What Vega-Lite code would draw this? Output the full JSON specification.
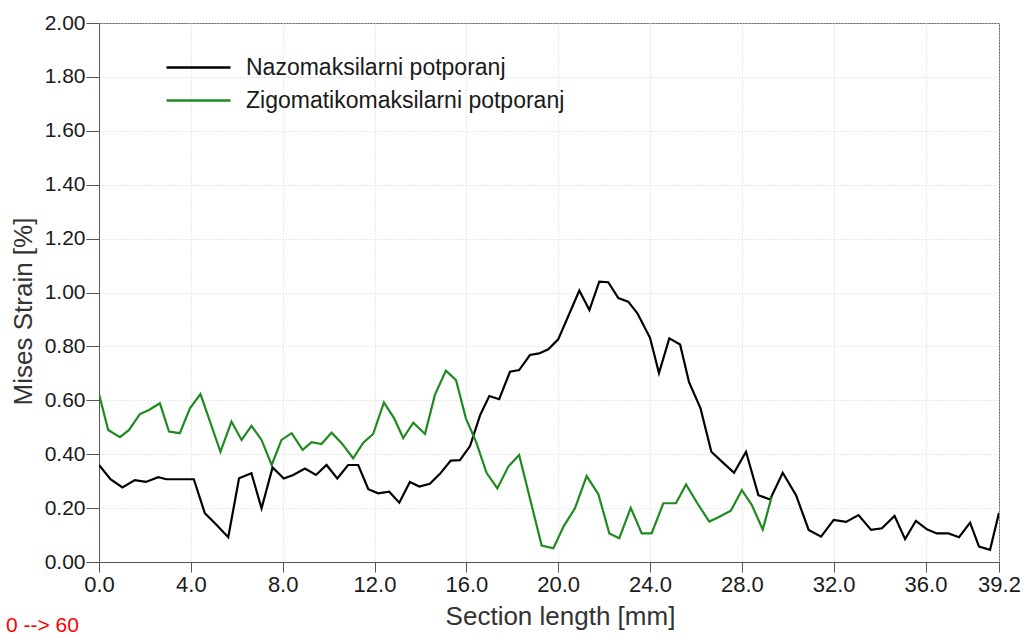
{
  "$schema": "https://vega.github.io/schema/vega-lite/v6.json",
  "width": 900,
  "height": 539,
  "autosize": {"type": "none"},
  "padding": {"left": 99, "top": 23, "right": 27, "bottom": 75},
  "background": "white",
  "config": {
    "font": "Liberation Sans",
    "view": {"stroke": "#666666", "strokeWidth": 1},
    "axis": {
      "domainColor": "#555555",
      "tickColor": "#555555",
      "gridColor": "#d4d4d4",
      "gridDash": [1, 2],
      "gridWidth": 1,
      "labelColor": "#1a1a1a",
      "titleColor": "#333333",
      "labelFont": "Liberation Sans",
      "titleFont": "Liberation Sans",
      "titleFontWeight": "normal"
    }
  },
  "title": {
    "text": "0 --> 60",
    "orient": "bottom",
    "anchor": "start",
    "frame": "group",
    "color": "#ff0000",
    "font": "Liberation Sans",
    "fontSize": 21,
    "fontWeight": "normal",
    "offset": 0,
    "dx": -93,
    "dy": -14
  },
  "data": {
    "values": [
      {"series": "Nazomaksilarni potporanj", "x": 0.0, "y": 0.36},
      {"series": "Nazomaksilarni potporanj", "x": 0.50, "y": 0.307},
      {"series": "Nazomaksilarni potporanj", "x": 1.02, "y": 0.277},
      {"series": "Nazomaksilarni potporanj", "x": 1.56, "y": 0.304},
      {"series": "Nazomaksilarni potporanj", "x": 2.04, "y": 0.297},
      {"series": "Nazomaksilarni potporanj", "x": 2.58, "y": 0.315},
      {"series": "Nazomaksilarni potporanj", "x": 2.94, "y": 0.307},
      {"series": "Nazomaksilarni potporanj", "x": 3.5, "y": 0.307},
      {"series": "Nazomaksilarni potporanj", "x": 4.13, "y": 0.307},
      {"series": "Nazomaksilarni potporanj", "x": 4.61, "y": 0.181},
      {"series": "Nazomaksilarni potporanj", "x": 5.05, "y": 0.144},
      {"series": "Nazomaksilarni potporanj", "x": 5.63, "y": 0.092},
      {"series": "Nazomaksilarni potporanj", "x": 6.10, "y": 0.311},
      {"series": "Nazomaksilarni potporanj", "x": 6.64, "y": 0.329},
      {"series": "Nazomaksilarni potporanj", "x": 7.08, "y": 0.199},
      {"series": "Nazomaksilarni potporanj", "x": 7.56, "y": 0.351},
      {"series": "Nazomaksilarni potporanj", "x": 8.05, "y": 0.310},
      {"series": "Nazomaksilarni potporanj", "x": 8.46, "y": 0.323},
      {"series": "Nazomaksilarni potporanj", "x": 8.97, "y": 0.347},
      {"series": "Nazomaksilarni potporanj", "x": 9.45, "y": 0.323},
      {"series": "Nazomaksilarni potporanj", "x": 9.91, "y": 0.360},
      {"series": "Nazomaksilarni potporanj", "x": 10.38, "y": 0.310},
      {"series": "Nazomaksilarni potporanj", "x": 10.85, "y": 0.360},
      {"series": "Nazomaksilarni potporanj", "x": 11.29, "y": 0.360},
      {"series": "Nazomaksilarni potporanj", "x": 11.73, "y": 0.270},
      {"series": "Nazomaksilarni potporanj", "x": 12.16, "y": 0.255},
      {"series": "Nazomaksilarni potporanj", "x": 12.64, "y": 0.261},
      {"series": "Nazomaksilarni potporanj", "x": 13.08, "y": 0.220},
      {"series": "Nazomaksilarni potporanj", "x": 13.54, "y": 0.297},
      {"series": "Nazomaksilarni potporanj", "x": 13.95, "y": 0.280},
      {"series": "Nazomaksilarni potporanj", "x": 14.41, "y": 0.290},
      {"series": "Nazomaksilarni potporanj", "x": 14.85, "y": 0.327},
      {"series": "Nazomaksilarni potporanj", "x": 15.32, "y": 0.376},
      {"series": "Nazomaksilarni potporanj", "x": 15.72, "y": 0.378},
      {"series": "Nazomaksilarni potporanj", "x": 16.16, "y": 0.430},
      {"series": "Nazomaksilarni potporanj", "x": 16.60, "y": 0.545},
      {"series": "Nazomaksilarni potporanj", "x": 17.00, "y": 0.616},
      {"series": "Nazomaksilarni potporanj", "x": 17.43, "y": 0.604},
      {"series": "Nazomaksilarni potporanj", "x": 17.90, "y": 0.706},
      {"series": "Nazomaksilarni potporanj", "x": 18.30, "y": 0.712},
      {"series": "Nazomaksilarni potporanj", "x": 18.77, "y": 0.768},
      {"series": "Nazomaksilarni potporanj", "x": 19.17, "y": 0.774},
      {"series": "Nazomaksilarni potporanj", "x": 19.57, "y": 0.789},
      {"series": "Nazomaksilarni potporanj", "x": 20.00, "y": 0.826},
      {"series": "Nazomaksilarni potporanj", "x": 20.48, "y": 0.920},
      {"series": "Nazomaksilarni potporanj", "x": 20.92, "y": 1.007},
      {"series": "Nazomaksilarni potporanj", "x": 21.36, "y": 0.935},
      {"series": "Nazomaksilarni potporanj", "x": 21.79, "y": 1.040},
      {"series": "Nazomaksilarni potporanj", "x": 22.18, "y": 1.038},
      {"series": "Nazomaksilarni potporanj", "x": 22.62, "y": 0.979},
      {"series": "Nazomaksilarni potporanj", "x": 23.05, "y": 0.966},
      {"series": "Nazomaksilarni potporanj", "x": 23.45, "y": 0.923},
      {"series": "Nazomaksilarni potporanj", "x": 24.00, "y": 0.832},
      {"series": "Nazomaksilarni potporanj", "x": 24.39, "y": 0.701},
      {"series": "Nazomaksilarni potporanj", "x": 24.84, "y": 0.830},
      {"series": "Nazomaksilarni potporanj", "x": 25.31, "y": 0.807},
      {"series": "Nazomaksilarni potporanj", "x": 25.70, "y": 0.667},
      {"series": "Nazomaksilarni potporanj", "x": 26.20, "y": 0.570},
      {"series": "Nazomaksilarni potporanj", "x": 26.67, "y": 0.409},
      {"series": "Nazomaksilarni potporanj", "x": 27.19, "y": 0.368},
      {"series": "Nazomaksilarni potporanj", "x": 27.66, "y": 0.331},
      {"series": "Nazomaksilarni potporanj", "x": 28.18, "y": 0.409},
      {"series": "Nazomaksilarni potporanj", "x": 28.72, "y": 0.248},
      {"series": "Nazomaksilarni potporanj", "x": 29.23, "y": 0.232},
      {"series": "Nazomaksilarni potporanj", "x": 29.78, "y": 0.331},
      {"series": "Nazomaksilarni potporanj", "x": 30.36, "y": 0.248},
      {"series": "Nazomaksilarni potporanj", "x": 30.91, "y": 0.119},
      {"series": "Nazomaksilarni potporanj", "x": 31.45, "y": 0.094},
      {"series": "Nazomaksilarni potporanj", "x": 32.00, "y": 0.156},
      {"series": "Nazomaksilarni potporanj", "x": 32.54, "y": 0.149},
      {"series": "Nazomaksilarni potporanj", "x": 33.08, "y": 0.174},
      {"series": "Nazomaksilarni potporanj", "x": 33.63, "y": 0.119},
      {"series": "Nazomaksilarni potporanj", "x": 34.10, "y": 0.125},
      {"series": "Nazomaksilarni potporanj", "x": 34.65, "y": 0.171},
      {"series": "Nazomaksilarni potporanj", "x": 35.11, "y": 0.085},
      {"series": "Nazomaksilarni potporanj", "x": 35.58, "y": 0.153},
      {"series": "Nazomaksilarni potporanj", "x": 36.06, "y": 0.121},
      {"series": "Nazomaksilarni potporanj", "x": 36.49, "y": 0.106},
      {"series": "Nazomaksilarni potporanj", "x": 37.00, "y": 0.106},
      {"series": "Nazomaksilarni potporanj", "x": 37.46, "y": 0.092},
      {"series": "Nazomaksilarni potporanj", "x": 37.94, "y": 0.146},
      {"series": "Nazomaksilarni potporanj", "x": 38.33, "y": 0.057},
      {"series": "Nazomaksilarni potporanj", "x": 38.81, "y": 0.045},
      {"series": "Nazomaksilarni potporanj", "x": 39.2, "y": 0.183},
      {"series": "Zigomatikomaksilarni potporanj", "x": 0.0, "y": 0.623},
      {"series": "Zigomatikomaksilarni potporanj", "x": 0.40, "y": 0.490},
      {"series": "Zigomatikomaksilarni potporanj", "x": 0.91, "y": 0.463},
      {"series": "Zigomatikomaksilarni potporanj", "x": 1.31, "y": 0.490},
      {"series": "Zigomatikomaksilarni potporanj", "x": 1.78, "y": 0.549},
      {"series": "Zigomatikomaksilarni potporanj", "x": 2.18, "y": 0.564},
      {"series": "Zigomatikomaksilarni potporanj", "x": 2.65, "y": 0.589},
      {"series": "Zigomatikomaksilarni potporanj", "x": 3.05, "y": 0.484},
      {"series": "Zigomatikomaksilarni potporanj", "x": 3.52, "y": 0.478},
      {"series": "Zigomatikomaksilarni potporanj", "x": 3.96, "y": 0.570},
      {"series": "Zigomatikomaksilarni potporanj", "x": 4.42, "y": 0.623},
      {"series": "Zigomatikomaksilarni potporanj", "x": 5.29, "y": 0.409},
      {"series": "Zigomatikomaksilarni potporanj", "x": 5.77, "y": 0.521},
      {"series": "Zigomatikomaksilarni potporanj", "x": 6.21, "y": 0.453},
      {"series": "Zigomatikomaksilarni potporanj", "x": 6.64, "y": 0.505},
      {"series": "Zigomatikomaksilarni potporanj", "x": 7.08, "y": 0.453},
      {"series": "Zigomatikomaksilarni potporanj", "x": 7.52, "y": 0.360},
      {"series": "Zigomatikomaksilarni potporanj", "x": 7.95, "y": 0.453},
      {"series": "Zigomatikomaksilarni potporanj", "x": 8.39, "y": 0.478},
      {"series": "Zigomatikomaksilarni potporanj", "x": 8.87, "y": 0.416},
      {"series": "Zigomatikomaksilarni potporanj", "x": 9.26, "y": 0.445},
      {"series": "Zigomatikomaksilarni potporanj", "x": 9.69, "y": 0.438},
      {"series": "Zigomatikomaksilarni potporanj", "x": 10.13, "y": 0.480},
      {"series": "Zigomatikomaksilarni potporanj", "x": 10.57, "y": 0.441},
      {"series": "Zigomatikomaksilarni potporanj", "x": 11.07, "y": 0.385},
      {"series": "Zigomatikomaksilarni potporanj", "x": 11.51, "y": 0.443},
      {"series": "Zigomatikomaksilarni potporanj", "x": 11.94, "y": 0.475},
      {"series": "Zigomatikomaksilarni potporanj", "x": 12.41, "y": 0.592},
      {"series": "Zigomatikomaksilarni potporanj", "x": 12.85, "y": 0.534},
      {"series": "Zigomatikomaksilarni potporanj", "x": 13.25, "y": 0.460},
      {"series": "Zigomatikomaksilarni potporanj", "x": 13.69, "y": 0.517},
      {"series": "Zigomatikomaksilarni potporanj", "x": 14.20, "y": 0.475},
      {"series": "Zigomatikomaksilarni potporanj", "x": 14.63, "y": 0.620},
      {"series": "Zigomatikomaksilarni potporanj", "x": 15.11, "y": 0.710},
      {"series": "Zigomatikomaksilarni potporanj", "x": 15.55, "y": 0.675},
      {"series": "Zigomatikomaksilarni potporanj", "x": 15.98, "y": 0.533},
      {"series": "Zigomatikomaksilarni potporanj", "x": 16.42, "y": 0.447},
      {"series": "Zigomatikomaksilarni potporanj", "x": 16.88, "y": 0.331},
      {"series": "Zigomatikomaksilarni potporanj", "x": 17.35, "y": 0.273},
      {"series": "Zigomatikomaksilarni potporanj", "x": 17.83, "y": 0.354},
      {"series": "Zigomatikomaksilarni potporanj", "x": 18.30, "y": 0.397},
      {"series": "Zigomatikomaksilarni potporanj", "x": 19.28, "y": 0.061},
      {"series": "Zigomatikomaksilarni potporanj", "x": 19.79, "y": 0.051},
      {"series": "Zigomatikomaksilarni potporanj", "x": 20.25, "y": 0.134},
      {"series": "Zigomatikomaksilarni potporanj", "x": 20.73, "y": 0.199},
      {"series": "Zigomatikomaksilarni potporanj", "x": 21.24, "y": 0.319},
      {"series": "Zigomatikomaksilarni potporanj", "x": 21.75, "y": 0.252},
      {"series": "Zigomatikomaksilarni potporanj", "x": 22.23, "y": 0.106},
      {"series": "Zigomatikomaksilarni potporanj", "x": 22.66, "y": 0.088},
      {"series": "Zigomatikomaksilarni potporanj", "x": 23.16, "y": 0.201},
      {"series": "Zigomatikomaksilarni potporanj", "x": 23.64, "y": 0.106},
      {"series": "Zigomatikomaksilarni potporanj", "x": 24.07, "y": 0.106},
      {"series": "Zigomatikomaksilarni potporanj", "x": 24.58, "y": 0.218},
      {"series": "Zigomatikomaksilarni potporanj", "x": 25.13, "y": 0.218},
      {"series": "Zigomatikomaksilarni potporanj", "x": 25.57, "y": 0.288},
      {"series": "Zigomatikomaksilarni potporanj", "x": 26.06, "y": 0.218},
      {"series": "Zigomatikomaksilarni potporanj", "x": 26.58, "y": 0.150},
      {"series": "Zigomatikomaksilarni potporanj", "x": 26.98, "y": 0.166},
      {"series": "Zigomatikomaksilarni potporanj", "x": 27.52, "y": 0.190},
      {"series": "Zigomatikomaksilarni potporanj", "x": 28.00, "y": 0.267},
      {"series": "Zigomatikomaksilarni potporanj", "x": 28.43, "y": 0.212},
      {"series": "Zigomatikomaksilarni potporanj", "x": 28.91, "y": 0.121},
      {"series": "Zigomatikomaksilarni potporanj", "x": 29.30, "y": 0.242}
    ]
  },
  "mark": {"type": "line", "strokeWidth": 2.2, "clip": true},
  "encoding": {
    "x": {
      "field": "x",
      "type": "quantitative",
      "scale": {"domain": [0, 39.2], "nice": false, "zero": false},
      "axis": {
        "title": "Section length [mm]",
        "values": [0, 4, 8, 12, 16, 20, 24, 28, 32, 36, 39.2],
        "format": ".1f",
        "labelFontSize": 22,
        "labelPadding": 2,
        "labelFlush": false,
        "labelOverlap": false,
        "tickSize": 10,
        "titleFontSize": 26,
        "titleX": 461,
        "titleY": 62,
        "titleAlign": "center",
        "titleBaseline": "alphabetic",
        "grid": true
      }
    },
    "y": {
      "field": "y",
      "type": "quantitative",
      "scale": {"domain": [0, 2], "nice": false},
      "axis": {
        "title": "Mises Strain [%]",
        "values": [0, 0.2, 0.4, 0.6, 0.8, 1.0, 1.2, 1.4, 1.6, 1.8, 2.0],
        "format": ".2f",
        "labelFontSize": 21,
        "labelPadding": 1,
        "labelFlush": false,
        "labelOverlap": false,
        "tickSize": 13,
        "titleFontSize": 26,
        "titleX": -68,
        "titleY": 288,
        "titleAlign": "center",
        "titleBaseline": "alphabetic",
        "grid": true
      }
    },
    "color": {
      "field": "series",
      "type": "nominal",
      "scale": {
        "domain": ["Nazomaksilarni potporanj", "Zigomatikomaksilarni potporanj"],
        "range": ["#000000", "#1f8a1f"]
      },
      "legend": {
        "title": null,
        "orient": "none",
        "legendX": 66,
        "legendY": 33,
        "symbolType": "stroke",
        "symbolSize": 4096,
        "symbolStrokeWidth": 2.5,
        "clipHeight": 23,
        "rowPadding": 9,
        "labelFontSize": 23,
        "labelFont": "Liberation Sans",
        "labelColor": "#1a1a1a",
        "labelOffset": 14,
        "labelLimit": 500,
        "padding": 0
      }
    }
  }
}
